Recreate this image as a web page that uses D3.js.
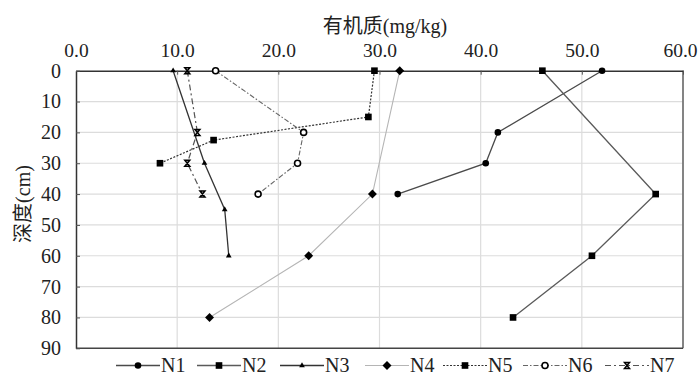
<!DOCTYPE html>
<html>
<head>
<meta charset="utf-8">
<script src="https://cdn.jsdelivr.net/npm/d3@7"></script>
<style>
  html, body { margin: 0; padding: 0; background: #fff; }
</style>
</head>
<body>
<svg id="chart" width="698" height="376"></svg>
<script>
// Soil organic matter (mg/kg) by depth (cm) for seven profiles
const seriesNames = ["N1", "N2", "N3", "N4", "N5", "N6", "N7"];
const depthN1 = [0, 20, 30, 40];
const valueN1 = [52.0, 41.7, 40.5, 31.8];
const depthN2 = [0, 40, 60, 80];
const valueN2 = [46.1, 57.3, 51.0, 43.2];
const depthN3 = [0, 30, 45, 60];
const valueN3 = [9.6, 12.7, 14.7, 15.1];
const depthN4 = [0, 40, 60, 80];
const valueN4 = [32.0, 29.3, 23.0, 13.2];
const depthN5 = [0, 15, 22.5, 30];
const valueN5 = [29.5, 28.9, 13.6, 8.3];
const depthN6 = [0, 20, 30, 40];
const valueN6 = [13.8, 22.5, 21.9, 18.0];
const depthN7 = [0, 20, 30, 40];
const valueN7 = [11.0, 12.0, 11.0, 12.5];
const xTicks = [0, 10, 20, 30, 40, 50, 60];
const yTicks = [0, 10, 20, 30, 40, 50, 60, 70, 80, 90];
const xTitle = "有机质(mg/kg)";
const yTitle = "深度(cm)";

const depths = [depthN1, depthN2, depthN3, depthN4, depthN5, depthN6, depthN7];
const values = [valueN1, valueN2, valueN3, valueN4, valueN5, valueN6, valueN7];

const SERIF = "'Liberation Serif', 'Times New Roman', serif";
const CJK = "'Liberation Serif', 'Noto Sans CJK SC', serif";

// Line and marker styling per profile
const styles = [
  { stroke: "#4a4a4a", width: 1.3, dash: null, marker: "circle" },
  { stroke: "#5a5a5a", width: 1.3, dash: null, marker: "square" },
  { stroke: "#333", width: 1.3, dash: null, marker: "triangle" },
  { stroke: "#b5b5b5", width: 1.1, dash: null, marker: "diamond" },
  { stroke: "#333", width: 1.2, dash: "2,1.5", marker: "square" },
  { stroke: "#666", width: 1.1, dash: "5,2,1.5,2", marker: "ocircle" },
  { stroke: "#555", width: 1.2, dash: "6,3,2,3", marker: "hourglass" }
];

const svg = d3.select("#chart");
const x = d3.scaleLinear().domain([0, 60]).range([76, 683]);
const y = d3.scaleLinear().domain([0, 90]).range([70.7, 348.3]);

// Gridlines
svg.append("g").selectAll("line").data(xTicks.slice(1, -1)).join("line")
  .attr("x1", d => x(d)).attr("x2", d => x(d))
  .attr("y1", y(0)).attr("y2", y(90))
  .attr("stroke", "#dcdcdc").attr("stroke-width", 1.2);
svg.append("g").selectAll("line").data(yTicks.slice(1, -1)).join("line")
  .attr("x1", x(0)).attr("x2", x(60))
  .attr("y1", d => y(d)).attr("y2", d => y(d))
  .attr("stroke", "#dcdcdc").attr("stroke-width", 1.2);

// Frame: right and bottom borders
svg.append("line").attr("x1", x(60)).attr("x2", x(60)).attr("y1", y(0)).attr("y2", y(90))
  .attr("stroke", "#777").attr("stroke-width", 1.8);
svg.append("line").attr("x1", x(0)).attr("x2", x(60)).attr("y1", y(90)).attr("y2", y(90))
  .attr("stroke", "#444").attr("stroke-width", 1.5);

// Top axis
const xAxis = d3.axisTop(x).tickValues(xTicks).tickFormat(d3.format(".1f"))
  .tickSizeInner(-4).tickSizeOuter(0).tickPadding(14);
const gx = svg.append("g").attr("transform", `translate(0,${y(0)})`).call(xAxis);
gx.select(".domain").attr("stroke", "#333").attr("stroke-width", 1.5);
gx.selectAll(".tick line").attr("stroke", "#555");
gx.selectAll(".tick text").style("font-family", SERIF).style("font-size", "19.5px").attr("fill", "#222")
  .attr("dx", d => d === 60 ? -3 : 0);

// Left axis
const yAxis = d3.axisLeft(y).tickValues(yTicks).tickFormat(d3.format("d"))
  .tickSizeInner(-4).tickSizeOuter(0).tickPadding(15);
const gy = svg.append("g").attr("transform", `translate(${x(0)},0)`).call(yAxis);
gy.select(".domain").attr("stroke", "#333").attr("stroke-width", 1.5);
gy.selectAll(".tick line").attr("stroke", "#555");
gy.selectAll(".tick text").style("font-family", SERIF).style("font-size", "20px").attr("fill", "#222");

// Axis titles
svg.append("text").attr("x", 385).attr("y", 33)
  .attr("text-anchor", "middle").attr("fill", "#222")
  .style("font-family", CJK).style("font-size", "20px").text(xTitle);
svg.append("text")
  .attr("transform", "translate(30,204) rotate(-90)")
  .attr("text-anchor", "middle").attr("fill", "#222")
  .style("font-family", CJK).style("font-size", "20px").text(yTitle);

// Marker drawing
function drawMarker(g, kind, cx, cy) {
  if (kind === "circle") {
    g.append("circle").attr("cx", cx).attr("cy", cy).attr("r", 3.3).attr("fill", "#000");
  } else if (kind === "ocircle") {
    g.append("circle").attr("cx", cx).attr("cy", cy).attr("r", 3).attr("fill", "#fff")
      .attr("stroke", "#000").attr("stroke-width", 1.6);
  } else if (kind === "square") {
    g.append("path").attr("transform", `translate(${cx},${cy})`)
      .attr("d", d3.symbol(d3.symbolSquare, 44)()).attr("fill", "#000");
  } else if (kind === "triangle") {
    g.append("path").attr("transform", `translate(${cx},${cy})`)
      .attr("d", d3.symbol(d3.symbolTriangle, 14)()).attr("fill", "#000");
  } else if (kind === "diamond") {
    g.append("path").attr("transform", `translate(${cx},${cy}) rotate(45)`)
      .attr("d", d3.symbol(d3.symbolSquare, 40)()).attr("fill", "#000");
  } else if (kind === "hourglass") {
    g.append("path").attr("transform", `translate(${cx},${cy})`)
      .attr("d", "M-2.5,-3L2.5,-3L-2.5,3L2.5,3Z").attr("fill", "none")
      .attr("stroke", "#000").attr("stroke-width", 1.5);
  }
}

const line = d3.line().x(d => x(d[1])).y(d => y(d[0]));

seriesNames.forEach((name, i) => {
  const pts = depths[i].map((dp, k) => [dp, values[i][k]]);
  const st = styles[i];
  const g = svg.append("g");
  g.append("path").datum(pts).attr("d", line).attr("fill", "none")
    .attr("stroke", st.stroke).attr("stroke-width", st.width)
    .attr("stroke-dasharray", st.dash);
  pts.forEach(p => drawMarker(g, st.marker, x(p[1]), y(p[0])));
});

// Legend
const legendX = [116, 197, 280, 365, 443, 523, 605];
const legendY = 365.5;
seriesNames.forEach((name, i) => {
  const st = styles[i];
  const g = svg.append("g");
  const x0 = legendX[i];
  g.append("line").attr("x1", x0).attr("x2", x0 + 44).attr("y1", legendY).attr("y2", legendY)
    .attr("stroke", st.stroke).attr("stroke-width", st.width)
    .attr("stroke-dasharray", st.dash);
  drawMarker(g, st.marker, x0 + 22, legendY);
  g.append("text").attr("x", x0 + 45).attr("y", 371.5).attr("fill", "#222")
    .style("font-family", SERIF).style("font-size", "20px").text(name);
});
</script>
</body>
</html>
